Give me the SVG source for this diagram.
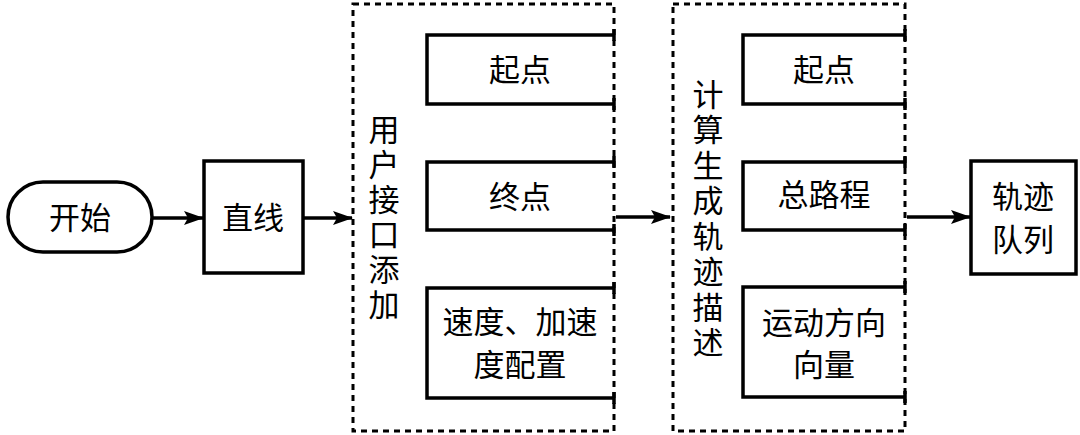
<svg xmlns="http://www.w3.org/2000/svg" width="1080" height="435" viewBox="0 0 1080 435">
<style>
.t{font-family:"Liberation Serif","Noto Sans CJK SC",serif;font-size:31px;fill:#000;text-anchor:middle}
.b{fill:#fff;stroke:#000;stroke-width:3.5}
.o{fill:none;stroke:#000;stroke-width:3.5}
.d{fill:none;stroke:#000;stroke-width:3;stroke-dasharray:6 5}
.c{fill:none;stroke:#000;stroke-width:3.5}
</style>
<defs>
<marker id="ah" markerWidth="20" markerHeight="14" refX="19" refY="7" orient="auto" markerUnits="userSpaceOnUse">
<path d="M0,0 L20,7 L0,14 L4,7 Z" fill="#000"/>
</marker>
</defs>
<rect width="1080" height="435" fill="#fff"/>
<g id="connectors">
<line class="c" x1="152" y1="218" x2="203" y2="218" marker-end="url(#ah)"/>
<line class="c" x1="303" y1="218" x2="352" y2="218" marker-end="url(#ah)"/>
<line class="c" x1="616" y1="217" x2="670" y2="217" marker-end="url(#ah)"/>
<line class="c" x1="907" y1="217" x2="970" y2="217" marker-end="url(#ah)"/>
</g>
<g id="start">
<rect class="b" x="8" y="182" width="144" height="70" rx="35"/>
<text class="t" x="80" y="229">开始</text>
</g>
<g id="line">
<rect class="b" x="204" y="161" width="99" height="112"/>
<text class="t" x="253" y="229">直线</text>
</g>
<g id="user-add">
<rect class="d" x="353" y="4" width="261" height="427"/>
<text class="t"><tspan x="384" y="141">用</tspan><tspan x="384" y="176">户</tspan><tspan x="384" y="211">接</tspan><tspan x="384" y="246">口</tspan><tspan x="384" y="281">添</tspan><tspan x="384" y="316">加</tspan></text>
</g>
<g id="u-start">
<path class="o" d="M614,35 H427 V104 H614 M614,29 V41 M614,98 V110"/>
<text class="t" x="520" y="81">起点</text>
</g>
<g id="u-end">
<path class="o" d="M614,162 H427 V230 H614 M614,156 V168 M614,224 V236"/>
<text class="t" x="520" y="208">终点</text>
</g>
<g id="u-speed">
<path class="o" d="M614,288 H427 V398 H614 M614,282 V294 M614,392 V404"/>
<text class="t" x="520" y="333">速度、加速</text>
<text class="t" x="520" y="376">度配置</text>
</g>
<g id="calc">
<rect class="d" x="673" y="4" width="232" height="427"/>
<text class="t"><tspan x="708" y="106">计</tspan><tspan x="708" y="141">算</tspan><tspan x="708" y="177">生</tspan><tspan x="708" y="212">成</tspan><tspan x="708" y="248">轨</tspan><tspan x="708" y="283">迹</tspan><tspan x="708" y="319">描</tspan><tspan x="708" y="354">述</tspan></text>
</g>
<g id="c-start">
<path class="o" d="M905,35 H743 V104 H905 M905,29 V41 M905,98 V110"/>
<text class="t" x="824" y="81">起点</text>
</g>
<g id="c-dist">
<path class="o" d="M905,162 H743 V230 H905 M905,156 V168 M905,224 V236"/>
<text class="t" x="824" y="206">总路程</text>
</g>
<g id="c-dir">
<path class="o" d="M905,287 H743 V397 H905 M905,281 V293 M905,391 V403"/>
<text class="t" x="824" y="334">运动方向</text>
<text class="t" x="824" y="376">向量</text>
</g>
<g id="queue">
<rect class="b" x="971" y="161" width="105" height="113"/>
<text class="t" x="1023" y="208">轨迹</text>
<text class="t" x="1023" y="251">队列</text>
</g>
</svg>
